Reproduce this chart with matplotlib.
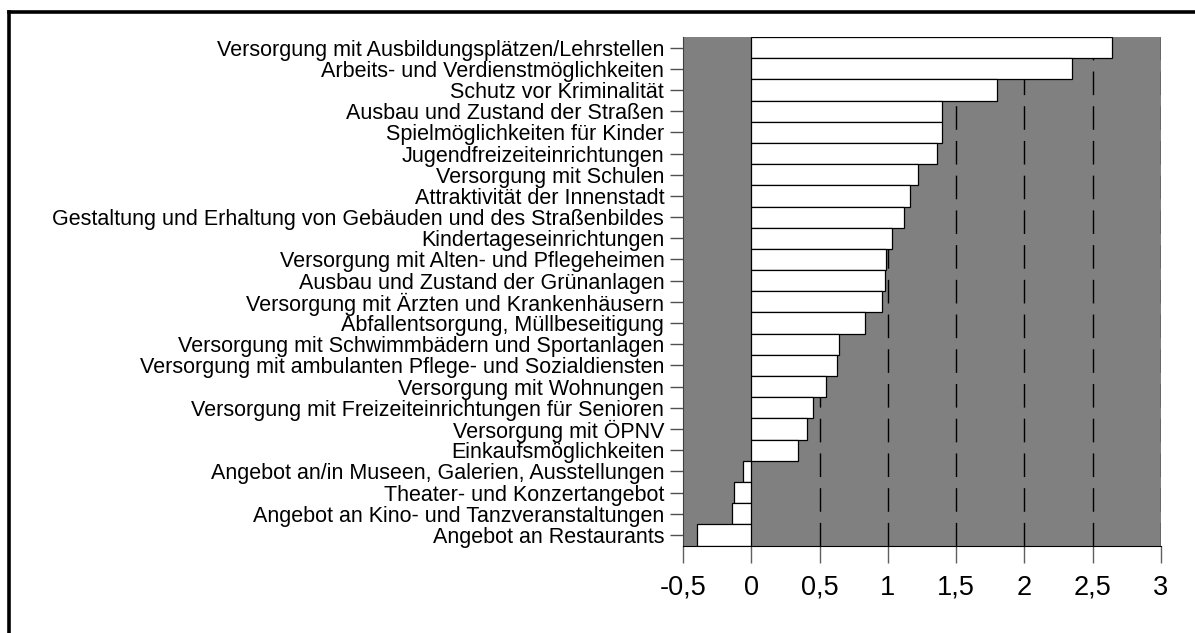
import matplotlib
matplotlib.use("Agg")
import matplotlib.pyplot as plt
from matplotlib.lines import Line2D

plt.rcParams["font.family"] = ["Liberation Sans", "DejaVu Sans"]
plt.rcParams["lines.scale_dashes"] = False

categories = [
    "Versorgung mit Ausbildungsplätzen/Lehrstellen",
    "Arbeits- und Verdienstmöglichkeiten",
    "Schutz vor Kriminalität",
    "Ausbau und Zustand der Straßen",
    "Spielmöglichkeiten für Kinder",
    "Jugendfreizeiteinrichtungen",
    "Versorgung mit Schulen",
    "Attraktivität der Innenstadt",
    "Gestaltung und Erhaltung von Gebäuden und des Straßenbildes",
    "Kindertageseinrichtungen",
    "Versorgung mit Alten- und Pflegeheimen",
    "Ausbau und Zustand der Grünanlagen",
    "Versorgung mit Ärzten und Krankenhäusern",
    "Abfallentsorgung, Müllbeseitigung",
    "Versorgung mit Schwimmbädern und Sportanlagen",
    "Versorgung mit ambulanten Pflege- und Sozialdiensten",
    "Versorgung mit Wohnungen",
    "Versorgung mit Freizeiteinrichtungen für Senioren",
    "Versorgung mit ÖPNV",
    "Einkaufsmöglichkeiten",
    "Angebot an/in Museen, Galerien, Ausstellungen",
    "Theater- und Konzertangebot",
    "Angebot an Kino- und Tanzveranstaltungen",
    "Angebot an Restaurants",
]
values = [2.64, 2.35, 1.80, 1.40, 1.40, 1.36, 1.22, 1.16, 1.12, 1.03,
          0.99, 0.98, 0.955, 0.83, 0.645, 0.625, 0.55, 0.455, 0.405, 0.345,
          -0.06, -0.13, -0.14, -0.40]
xticks = [-0.5, 0, 0.5, 1, 1.5, 2, 2.5, 3]
xticklabels = ["-0,5", "0", "0,5", "1", "1,5", "2", "2,5", "3"]

fig = plt.figure(figsize=(11.95, 6.33), dpi=100)
ax = fig.add_axes([683 / 1195, 1 - 545.5 / 633, 478 / 1195, 508.5 / 633])
ax.set_facecolor("#808080")

ypos = list(range(len(categories)))[::-1]
for x in xticks[2:]:
    ax.axvline(x, color="black", lw=1.0, dashes=(17, 8), zorder=1)
ax.barh(ypos, values, height=1.0, color="white", edgecolor="black",
        linewidth=0.9, zorder=2)

ax.set_xlim(-0.5, 3)
ax.set_ylim(-0.5, len(categories) - 0.5)
ax.set_yticks(ypos)
ax.set_yticklabels(categories, fontsize=15.5)
ax.set_xticks(xticks)
ax.set_xticklabels(xticklabels, fontsize=19.5)

ax.spines["top"].set_visible(False)
ax.spines["right"].set_visible(False)
ax.spines["left"].set_color("#404040")
ax.spines["bottom"].set_color("black")
ax.tick_params(axis="y", length=9.5, width=1, color="#505050", pad=4)
ax.tick_params(axis="x", length=12, width=1, color="#606060", pad=9)

# outer frame (only top and left edges visible)
fig.add_artist(Line2D([8.5 / 1195, 8.5 / 1195], [0, 1 - 11.5 / 633],
                      transform=fig.transFigure, color="black", lw=2.6,
                      solid_capstyle="projecting"))
fig.add_artist(Line2D([8.5 / 1195, 1], [1 - 11.5 / 633, 1 - 11.5 / 633],
                      transform=fig.transFigure, color="black", lw=2.6,
                      solid_capstyle="projecting"))

fig.savefig("out.png", dpi=100)
